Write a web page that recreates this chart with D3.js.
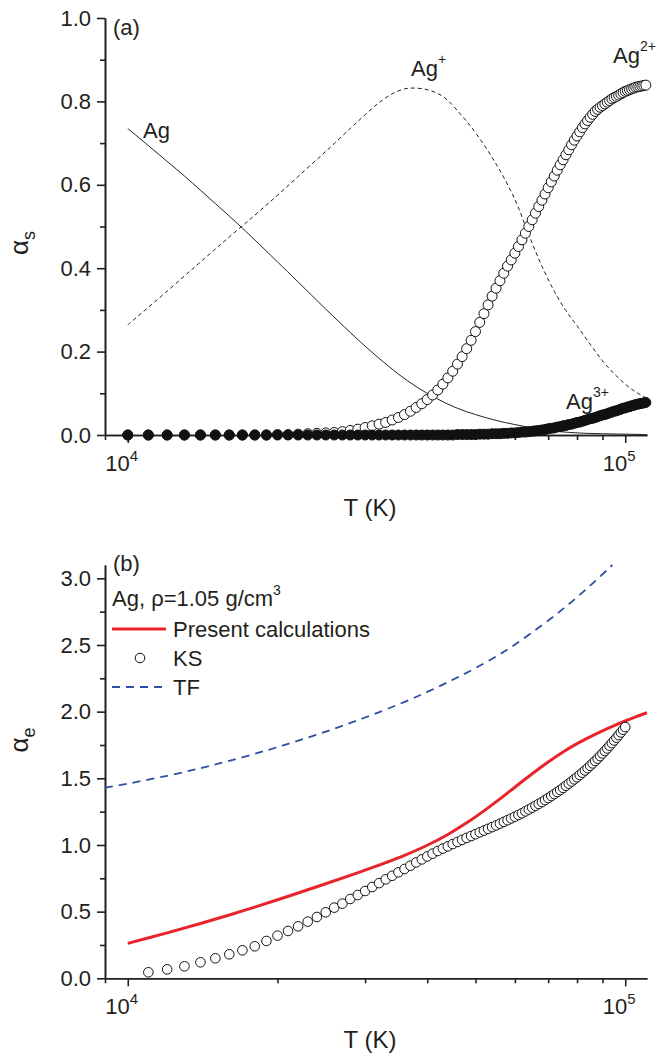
<!DOCTYPE html>
<html>
<head>
<meta charset="utf-8">
<script src="https://cdn.jsdelivr.net/npm/d3@7"></script>
<style>
  body { margin: 0; background: #fff; }
  svg { display: block; font-family: "Liberation Sans", Arial, sans-serif; }
  .axis path, .axis line { stroke: #231f20; stroke-width: 1.6; }
  .axis text { font-size: 22px; fill: #231f20; font-family: "Liberation Sans", Arial, sans-serif; }
</style>
</head>
<body>
<svg id="chart" width="658" height="1055"></svg>
<script>
// temperature grid of the marker series (one point every 1000 K)
const gridT = d3.range(10000, 111000, 1000);

// (a) ionisation fractions
const agT   = [10000, 11000, 12000, 13000, 14000, 15000, 16000, 17000, 18000, 20000, 22000, 25000, 28000, 30000, 32000, 35000, 38000, 42000, 46000, 50000, 55000, 60000, 65000, 70000, 80000, 90000, 100000, 110600];
const agVal = [0.735, 0.694, 0.656, 0.621, 0.587, 0.555, 0.525, 0.496, 0.468, 0.415, 0.367, 0.302, 0.246, 0.213, 0.184, 0.146, 0.116, 0.086, 0.064, 0.049, 0.035, 0.025, 0.017, 0.011, 0.005, 0.003, 0.002, 0.001];

const ag1T   = [10000, 12000, 14000, 16000, 18000, 20000, 22000, 25000, 28000, 30000, 32000, 34000, 36000, 37500, 40000, 43000, 47000, 50000, 55000, 60000, 64000, 68000, 72000, 76000, 80000, 85000, 90000, 95000, 100000, 105000, 110600];
const ag1Val = [0.264, 0.345, 0.415, 0.475, 0.527, 0.575, 0.620, 0.680, 0.735, 0.768, 0.797, 0.818, 0.830, 0.832, 0.828, 0.812, 0.765, 0.725, 0.650, 0.565, 0.480, 0.405, 0.345, 0.298, 0.262, 0.218, 0.178, 0.147, 0.122, 0.103, 0.088];

const ag2Val = [
  0, 0, 0, 0, 0, 0, 0, 0, 0, 0,
  0.001, 0.001, 0.002, 0.003, 0.004, 0.005, 0.006, 0.008, 0.011, 0.014,
  0.018, 0.022, 0.026, 0.030, 0.036, 0.042, 0.049, 0.057, 0.066, 0.075,
  0.085, 0.096, 0.108, 0.122, 0.137, 0.153, 0.170, 0.188, 0.207, 0.227,
  0.248, 0.270, 0.291, 0.312, 0.333, 0.352, 0.370, 0.388, 0.405, 0.420,
  0.436, 0.452, 0.468, 0.484, 0.500, 0.516, 0.532, 0.548, 0.563, 0.578,
  0.593, 0.607, 0.621, 0.635, 0.648, 0.660, 0.672, 0.684, 0.696, 0.707,
  0.717, 0.727, 0.737, 0.746, 0.754, 0.762, 0.769, 0.776, 0.781, 0.786,
  0.790, 0.794, 0.798, 0.802, 0.806, 0.809, 0.812, 0.815, 0.818, 0.821,
  0.824, 0.826, 0.828, 0.830, 0.832, 0.834, 0.835, 0.836, 0.837, 0.838,
  0.839
];

const ag3Val = [
  0, 0, 0, 0, 0, 0, 0, 0, 0, 0,
  0, 0, 0, 0, 0, 0, 0, 0, 0, 0,
  0, 0, 0, 0, 0, 0, 0, 0, 0, 0,
  0, 0, 0, 0, 0, 0, 0.001, 0.001, 0.001, 0.001,
  0.001, 0.002, 0.002, 0.002, 0.003, 0.003, 0.003, 0.004, 0.004, 0.005,
  0.005, 0.006, 0.007, 0.007, 0.008, 0.009, 0.010, 0.011, 0.012, 0.013,
  0.015, 0.016, 0.017, 0.019, 0.020, 0.022, 0.023, 0.025, 0.026, 0.028,
  0.030, 0.031, 0.033, 0.035, 0.037, 0.039, 0.040, 0.042, 0.044, 0.046,
  0.048, 0.049, 0.051, 0.053, 0.055, 0.057, 0.058, 0.060, 0.062, 0.064,
  0.065, 0.067, 0.068, 0.070, 0.071, 0.073, 0.074, 0.075, 0.076, 0.077,
  0.078
];

// (b) mean ionisation
const presentT   = [10000, 12000, 14000, 16000, 18000, 20000, 22000, 25000, 28000, 30000, 33000, 36000, 40000, 44000, 48000, 52000, 56000, 60000, 65000, 70000, 75000, 80000, 85000, 90000, 95000, 100000, 105000, 110600];
const presentVal = [0.262, 0.341, 0.411, 0.475, 0.534, 0.589, 0.640, 0.709, 0.772, 0.811, 0.867, 0.922, 0.998, 1.079, 1.166, 1.256, 1.346, 1.433, 1.534, 1.623, 1.698, 1.760, 1.811, 1.856, 1.895, 1.930, 1.961, 1.992];

const ksT = d3.range(11000, 101000, 1000);
const ksVal = [
  0.045, 0.067, 0.090, 0.120, 0.150, 0.180, 0.210, 0.240, 0.280, 0.320,
  0.355, 0.390, 0.425, 0.460, 0.495, 0.530, 0.560, 0.595, 0.625, 0.655,
  0.685, 0.714, 0.742, 0.769, 0.795, 0.820, 0.845, 0.869, 0.892, 0.914,
  0.935, 0.955, 0.973, 0.990, 1.007, 1.023, 1.038, 1.053, 1.067, 1.081,
  1.095, 1.108, 1.121, 1.134, 1.147, 1.160, 1.173, 1.186, 1.199, 1.212,
  1.225, 1.238, 1.252, 1.266, 1.280, 1.294, 1.308, 1.322, 1.337, 1.352,
  1.367, 1.382, 1.397, 1.412, 1.428, 1.444, 1.460, 1.476, 1.492, 1.508,
  1.525, 1.542, 1.559, 1.576, 1.594, 1.612, 1.630, 1.648, 1.667, 1.686,
  1.705, 1.724, 1.744, 1.764, 1.784, 1.804, 1.824, 1.844, 1.864, 1.884
];

const tfT   = [9000, 10000, 12000, 14000, 16000, 19000, 22000, 26000, 30000, 35000, 40000, 45000, 50000, 57000, 65000, 75000, 85000, 94200];
const tfVal = [1.430, 1.460, 1.519, 1.576, 1.631, 1.709, 1.782, 1.872, 1.956, 2.054, 2.148, 2.239, 2.327, 2.449, 2.594, 2.771, 2.945, 3.100];

const xMajor = [1e4, 1e5];
const xMinor = [9000, 20000, 30000, 40000, 50000, 60000, 70000, 80000, 90000];
const yTopMajor = [0, 0.2, 0.4, 0.6, 0.8, 1.0];
const yTopMinor = [0.1, 0.3, 0.5, 0.7, 0.9];
const yBotMajor = [0, 0.5, 1.0, 1.5, 2.0, 2.5, 3.0];
const yBotMinor = [0.25, 0.75, 1.25, 1.75, 2.25, 2.75];

const svg = d3.select("#chart");
const ink = "#231f20";

const x = d3.scaleLog().domain([9000, 110600]).range([105, 647]);
const yTop = d3.scaleLinear().domain([0, 1]).range([435, 18]);
const yBot = d3.scaleLinear().domain([0, 3.1]).range([978.3, 565]);

const zip = (ts, vs) => ts.map((t, i) => ({ t: t, v: vs[i] }));

function xAxis(y0, titleOffset) {
    svg.append("g").attr("class", "axis")
        .attr("transform", `translate(0,${y0})`)
        .call(d3.axisBottom(x).tickValues(xMajor).tickSize(8).tickSizeOuter(0).tickFormat(""));
    svg.append("g").attr("class", "axis")
        .attr("transform", `translate(0,${y0})`)
        .call(d3.axisBottom(x).tickValues(xMinor).tickSize(5).tickSizeOuter(0).tickFormat(""));
    xMajor.forEach(v => {
        const t = svg.append("text")
            .attr("x", x(v) - 6).attr("y", y0 + 36)
            .attr("text-anchor", "middle")
            .attr("font-size", 22).attr("fill", ink);
        t.append("tspan").text("10");
        t.append("tspan").attr("dy", -10).attr("font-size", 15).text(Math.round(Math.log10(v)));
    });
    svg.append("text")
        .attr("x", 370).attr("y", y0 + titleOffset)
        .attr("text-anchor", "middle")
        .attr("font-size", 24).attr("fill", ink)
        .text("T (K)");
}

function yAxis(scale, major, minor, fmt) {
    svg.append("g").attr("class", "axis")
        .attr("transform", "translate(105,0)")
        .call(d3.axisLeft(scale).tickValues(major).tickSize(8).tickSizeOuter(0).tickPadding(6).tickFormat(d3.format(fmt)));
    svg.append("g").attr("class", "axis")
        .attr("transform", "translate(105,0)")
        .call(d3.axisLeft(scale).tickValues(minor).tickSize(5).tickSizeOuter(0).tickFormat(""));
}

function yTitle(cy, sub) {
    const t = svg.append("text")
        .attr("transform", `translate(28,${cy}) rotate(-90)`)
        .attr("text-anchor", "middle")
        .attr("font-size", 26).attr("fill", ink);
    t.append("tspan").text("\u03b1");
    t.append("tspan").attr("dy", 7).attr("font-size", 18).text(sub);
}

// ---------- panel (a) ----------
yAxis(yTop, yTopMajor, yTopMinor, ".1f");
xAxis(435, 81);
yTitle(243, "s");

const lineTop = d3.line().x(d => x(d.t)).y(d => yTop(d.v)).curve(d3.curveCatmullRom.alpha(0.5));

svg.append("path").datum(zip(agT, agVal))
    .attr("d", lineTop).attr("fill", "none")
    .attr("stroke", "#222").attr("stroke-width", 1);

svg.append("path").datum(zip(ag1T, ag1Val))
    .attr("d", lineTop).attr("fill", "none")
    .attr("stroke", "#222").attr("stroke-width", 1)
    .attr("stroke-dasharray", "4,3");

svg.append("g").selectAll("circle")
    .data(zip(gridT, ag2Val)).enter().append("circle")
    .attr("cx", d => x(d.t)).attr("cy", d => yTop(d.v)).attr("r", 5)
    .attr("fill", "#fff").attr("stroke", "#111").attr("stroke-width", 1);

svg.append("g").selectAll("circle")
    .data(zip(gridT, ag3Val)).enter().append("circle")
    .attr("cx", d => x(d.t)).attr("cy", d => yTop(d.v)).attr("r", 5)
    .attr("fill", "#111").attr("stroke", "#111").attr("stroke-width", 1);

function ionLabel(lx, ly, sup) {
    const t = svg.append("text").attr("x", lx).attr("y", ly)
        .attr("font-size", 22).attr("fill", ink);
    t.append("tspan").text("Ag");
    if (sup) t.append("tspan").attr("dy", -12).attr("font-size", 14).text(sup);
}
svg.append("text").attr("x", 113).attr("y", 35).attr("font-size", 22).attr("fill", ink).text("(a)");
ionLabel(143, 138, null);
ionLabel(411, 76, "+");
ionLabel(613, 63, "2+");
ionLabel(566, 409, "3+");

// ---------- panel (b) ----------
yAxis(yBot, yBotMajor, yBotMinor, ".1f");
xAxis(978.3, 70);
yTitle(740, "e");

const lineBot = d3.line().x(d => x(d.t)).y(d => yBot(d.v)).curve(d3.curveCatmullRom.alpha(0.5));

svg.append("path").datum(zip(tfT, tfVal))
    .attr("d", lineBot).attr("fill", "none")
    .attr("stroke", "#2f4ea3").attr("stroke-width", 1.8)
    .attr("stroke-dasharray", "8,6");

svg.append("path").datum(zip(presentT, presentVal))
    .attr("d", lineBot).attr("fill", "none")
    .attr("stroke", "#e8242a").attr("stroke-width", 3);

svg.append("g").selectAll("circle")
    .data(zip(ksT, ksVal)).enter().append("circle")
    .attr("cx", d => x(d.t)).attr("cy", d => yBot(d.v)).attr("r", 4.8)
    .attr("fill", "#fff").attr("stroke", "#111").attr("stroke-width", 1);

svg.append("text").attr("x", 113).attr("y", 571).attr("font-size", 22).attr("fill", ink).text("(b)");

// legend
const head = svg.append("text").attr("x", 112).attr("y", 606).attr("font-size", 22).attr("fill", ink);
head.append("tspan").text("Ag, \u03c1=1.05 g/cm");
head.append("tspan").attr("dy", -11).attr("font-size", 14).text("3");

svg.append("line").attr("x1", 112).attr("x2", 166).attr("y1", 629).attr("y2", 629)
    .attr("stroke", "#e8242a").attr("stroke-width", 3);
svg.append("text").attr("x", 173).attr("y", 637).attr("font-size", 22).attr("fill", ink).text("Present calculations");

svg.append("circle").attr("cx", 140).attr("cy", 658).attr("r", 4.8)
    .attr("fill", "#fff").attr("stroke", "#111").attr("stroke-width", 1);
svg.append("text").attr("x", 173).attr("y", 666).attr("font-size", 22).attr("fill", ink).text("KS");

svg.append("line").attr("x1", 112).attr("x2", 164).attr("y1", 687).attr("y2", 687)
    .attr("stroke", "#2f4ea3").attr("stroke-width", 1.8).attr("stroke-dasharray", "8,6");
svg.append("text").attr("x", 173).attr("y", 695).attr("font-size", 22).attr("fill", ink).text("TF");
</script>
</body>
</html>
